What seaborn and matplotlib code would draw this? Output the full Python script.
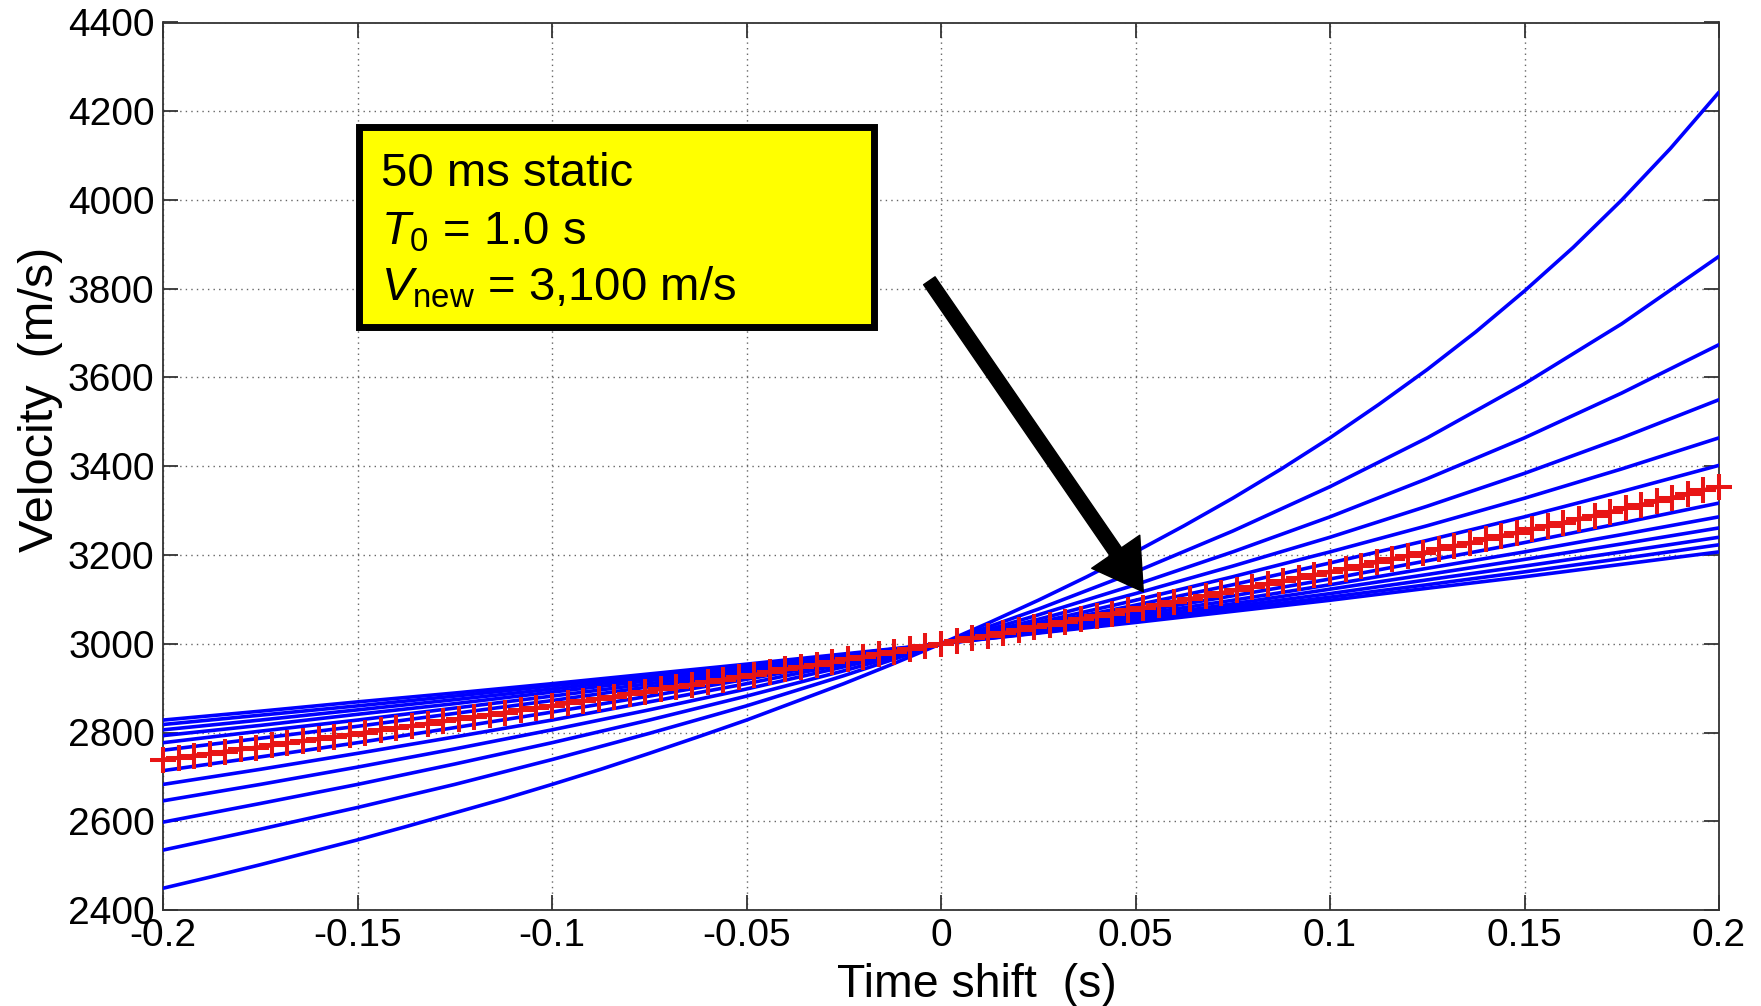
import numpy as np
import pandas as pd
import matplotlib
matplotlib.use("Agg")
import matplotlib.pyplot as plt
import seaborn as sns
from matplotlib.patches import Rectangle, FancyArrowPatch

# ---- data -----------------------------------------------------------------
# time shifts (s) at which the velocity curves are sampled
time_shift = [-0.2, -0.175, -0.15, -0.125, -0.1, -0.075, -0.05, -0.025, 0.0,
              0.025, 0.05, 0.075, 0.1, 0.125, 0.15, 0.175, 0.2]
# the steepest curve bends most, so it is sampled twice as densely
time_shift_fine = [round(-0.2 + 0.0125 * i, 4) for i in range(33)]

# blue curves: velocity (m/s) versus time shift, steepest first
vel_curve_01 = [2449, 2475, 2502, 2530, 2558, 2588, 2619, 2650, 2683, 2717, 2753,
                2790, 2828, 2869, 2910, 2954, 3000, 3048, 3098, 3151, 3207, 3266,
                3328, 3394, 3464, 3539, 3618, 3703, 3795, 3893, 4000, 4116, 4243]
vel_curve_02 = [2535, 2582, 2631, 2683, 2739, 2798, 2860, 2928, 3000, 3078, 3162, 3254, 3354, 3464, 3586, 3721, 3873]
vel_curve_03 = [2598, 2640, 2683, 2729, 2777, 2828, 2882, 2939, 3000, 3065, 3133, 3207, 3286, 3372, 3464, 3565, 3674]
vel_curve_04 = [2646, 2683, 2722, 2763, 2806, 2851, 2898, 2948, 3000, 3055, 3113, 3175, 3240, 3310, 3384, 3464, 3550]
vel_curve_05 = [2683, 2717, 2753, 2790, 2828, 2869, 2910, 2954, 3000, 3048, 3098, 3151, 3207, 3266, 3328, 3394, 3464]
vel_curve_06 = [2714, 2745, 2777, 2811, 2846, 2882, 2920, 2959, 3000, 3043, 3087, 3133, 3182, 3233, 3286, 3343, 3402]
vel_curve_07 = [2760, 2787, 2814, 2843, 2872, 2903, 2934, 2966, 3000, 3035, 3071, 3108, 3146, 3187, 3228, 3272, 3317]
vel_curve_08 = [2777, 2803, 2828, 2855, 2882, 2910, 2939, 2969, 3000, 3032, 3065, 3098, 3133, 3170, 3207, 3246, 3286]
vel_curve_09 = [2793, 2816, 2841, 2865, 2891, 2917, 2944, 2972, 3000, 3029, 3059, 3090, 3123, 3156, 3190, 3225, 3261]
vel_curve_10 = [2806, 2828, 2851, 2874, 2898, 2923, 2948, 2974, 3000, 3027, 3055, 3084, 3113, 3144, 3175, 3207, 3240]
vel_curve_11 = [2818, 2839, 2860, 2882, 2905, 2928, 2951, 2975, 3000, 3025, 3051, 3078, 3105, 3133, 3162, 3192, 3223]
vel_curve_12 = [2828, 2848, 2869, 2889, 2910, 2932, 2954, 2977, 3000, 3024, 3048, 3073, 3098, 3125, 3151, 3179, 3207]

curves = [
    (time_shift_fine, vel_curve_01),
    (time_shift, vel_curve_02), (time_shift, vel_curve_03), (time_shift, vel_curve_04),
    (time_shift, vel_curve_05), (time_shift, vel_curve_06), (time_shift, vel_curve_07),
    (time_shift, vel_curve_08), (time_shift, vel_curve_09), (time_shift, vel_curve_10),
    (time_shift, vel_curve_11), (time_shift, vel_curve_12),
]

# red marked curve: time shifts every 4 ms and velocity (m/s)
red_time = [round(-0.2 + 0.004 * i, 3) for i in range(101)]
red_velocity = [
    2739, 2743, 2748, 2752, 2757, 2762, 2766, 2771, 2776, 2781,
    2785, 2790, 2795, 2800, 2805, 2810, 2815, 2820, 2825, 2830,
    2835, 2840, 2845, 2850, 2855, 2860, 2866, 2871, 2876, 2881,
    2887, 2892, 2898, 2903, 2908, 2914, 2919, 2925, 2930, 2936,
    2942, 2947, 2953, 2959, 2965, 2970, 2976, 2982, 2988, 2994,
    3000,
    3006, 3012, 3018, 3024, 3030, 3037, 3043, 3049, 3056, 3062,
    3068, 3075, 3081, 3088, 3094, 3101, 3108, 3114, 3121, 3128,
    3135, 3141, 3148, 3155, 3162, 3169, 3176, 3184, 3191, 3198,
    3205, 3213, 3220, 3227, 3235, 3243, 3250, 3258, 3265, 3273,
    3281, 3289, 3297, 3305, 3313, 3321, 3329, 3337, 3346, 3354,
]

x_ticks = [-0.2, -0.15, -0.1, -0.05, 0, 0.05, 0.1, 0.15, 0.2]
x_tick_labels = ["-0.2", "-0.15", "-0.1", "-0.05", "0", "0.05", "0.1", "0.15", "0.2"]
y_ticks = [2400, 2600, 2800, 3000, 3200, 3400, 3600, 3800, 4000, 4200, 4400]

box_lines = ["50 ms static", r"$T_0$ = 1.0 s", r"$V_{\mathrm{new}}$ = 3,100 m/s"]

# ---- style ----------------------------------------------------------------
sns.set_theme(style="white")
plt.rcParams["font.family"] = ["Liberation Sans", "DejaVu Sans"]
plt.rcParams["mathtext.fontset"] = "custom"
plt.rcParams["mathtext.rm"] = "Liberation Sans"
plt.rcParams["mathtext.it"] = "Liberation Sans:italic"
plt.rcParams["axes.unicode_minus"] = False

W, H = 1761, 1006
fig = plt.figure(figsize=(W / 100, H / 100), dpi=100)
ax = fig.add_axes([163 / W, 1 - 910 / H, 1556 / W, 887.5 / H])

# ---- curves ---------------------------------------------------------------
long = pd.concat(
    [pd.DataFrame({"time": t, "velocity": v, "curve": i}) for i, (t, v) in enumerate(curves)],
    ignore_index=True,
)
sns.lineplot(data=long, x="time", y="velocity", units="curve", estimator=None,
             color="#0000ff", lw=2.6, ax=ax, legend=False, zorder=3)

red = pd.DataFrame({"time": red_time, "velocity": red_velocity})
sns.lineplot(data=red, x="time", y="velocity", color="#e81515", lw=3.0,
             marker="+", markersize=18.5, markeredgewidth=2.9,
             markeredgecolor="#e81515", markerfacecolor="#e81515",
             ax=ax, legend=False, zorder=4, clip_on=False)

# ---- axes -----------------------------------------------------------------
ax.set_xlim(-0.2, 0.2)
ax.set_ylim(2400, 4400)
ax.set_xticks(x_ticks)
ax.set_xticklabels(x_tick_labels)
ax.set_yticks(y_ticks)
ax.tick_params(axis="both", which="major", direction="in", length=11, width=1.3,
               color="#333333", labelsize=28, labelcolor="black",
               top=True, right=True, bottom=True, left=True)
ax.tick_params(axis="x", pad=6)
ax.tick_params(axis="y", pad=6)
for sp in ax.spines.values():
    sp.set_color("#333333")
    sp.set_linewidth(1.3)
ax.grid(True, color="#666666", linestyle=(0, (1, 3)), linewidth=1.0)

ax.set_xlabel("Time shift  (s)", fontsize=33.5, color="black", va="baseline")
ax.xaxis.set_label_coords(0.523, -(997 - 910) / 887.5)
ax.set_ylabel("Velocity  (m/s)", fontsize=35, color="black")
ax.yaxis.set_label_coords(-0.064, 0.575)

# ---- annotation box -------------------------------------------------------
box = Rectangle((359 / W, 1 - 327 / H), (874 - 359) / W, (327 - 127) / H,
                transform=fig.transFigure, facecolor="#ffff00",
                edgecolor="black", linewidth=5, zorder=10)
fig.patches.append(box)
baselines = [186, 245, 301]
for txt, yb in zip(box_lines, baselines):
    fig.text(381 / W, 1 - yb / H, txt, fontsize=34, va="baseline", ha="left",
             color="black", zorder=11)

# ---- arrow ----------------------------------------------------------------
arrow = FancyArrowPatch((-0.003, 3818), (0.052, 3117),
                        arrowstyle="simple,head_length=35,head_width=42,tail_width=10",
                        mutation_scale=1, color="black", shrinkA=0, shrinkB=0,
                        zorder=12)
ax.add_patch(arrow)

fig.savefig("out.png", dpi=100)
